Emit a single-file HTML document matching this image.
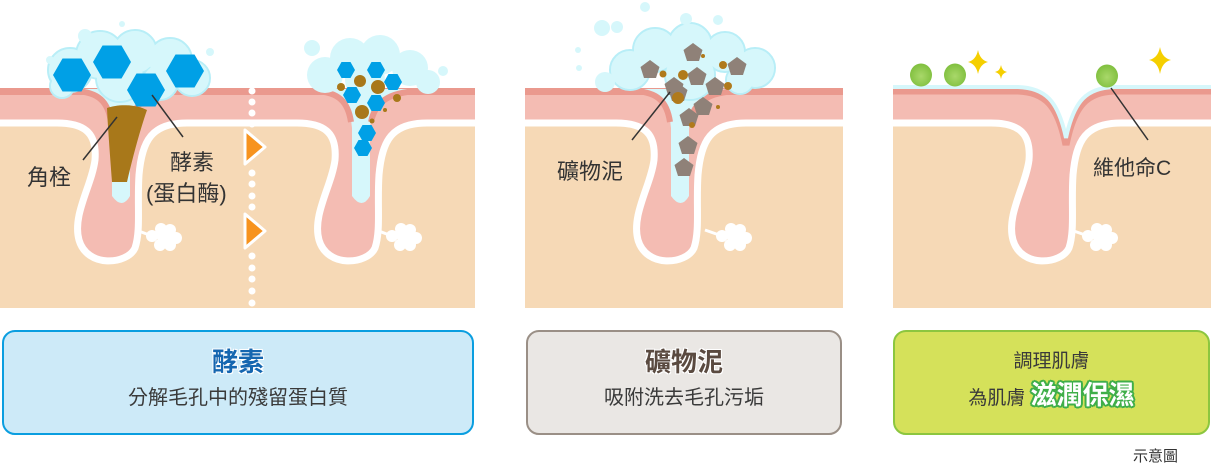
<!DOCTYPE html>
<html><head><meta charset="utf-8">
<style>
html,body{margin:0;padding:0;background:#fff;}
body{width:1211px;height:470px;position:relative;overflow:hidden;font-family:"Liberation Sans","Noto Sans CJK TC",sans-serif;}
.box{position:absolute;box-sizing:border-box;border-radius:13px;text-align:center;color:#3a3a3a;}
.t{font-weight:bold;font-size:26px;line-height:30px;margin-top:15px;}
.s{font-size:20px;line-height:26px;margin-top:14px;}
</style></head><body>
<svg width="1211" height="470" viewBox="0 0 1211 470" style="position:absolute;left:0;top:0">
<defs>
<clipPath id="c1"><rect x="0" y="60" width="475" height="248"/></clipPath>
<clipPath id="c2"><rect x="525" y="60" width="318" height="248"/></clipPath>
<clipPath id="c3"><rect x="893" y="60" width="318" height="248"/></clipPath>
<g id="cloud"><circle cx="0" cy="0" r="6" fill="#fff"/><circle cx="9" cy="-7" r="6" fill="#fff"/><circle cx="18" cy="-6" r="6" fill="#fff"/><circle cx="24" cy="2" r="6" fill="#fff"/><circle cx="18" cy="9" r="6" fill="#fff"/><circle cx="8" cy="9" r="6" fill="#fff"/><circle cx="12" cy="1" r="7" fill="#fff"/></g>
<polygon id="hex" points="-19,0 -9.5,-16.5 9.5,-16.5 19,0 9.5,16.5 -9.5,16.5" fill="#00a0e6"/>
<polygon id="hexs" points="-9,0 -4.5,-8 4.5,-8 9,0 4.5,8 -4.5,8" fill="#00a0e6"/>
<polygon id="pent" points="0,-10 9.5,-3 6,8 -6,8 -9.5,-3" fill="#8f8178"/>
<g id="fun">
<path d="M-50,89 C-25,90 -17,100 -15,128 L-15,196 Q-5,210 3,196 L3,128 C6,100 20,90 50,89 Z" fill="#d6f7fb"/>
<path d="M-52,91 C-28,92 -19,102 -16,122" fill="none" stroke="#ea998e" stroke-width="6"/>
<path d="M52,91 C22,92 8,102 4,122" fill="none" stroke="#ea998e" stroke-width="6"/>
</g>
</defs>

<!-- Panel 1 -->
<g clip-path="url(#c1)">
<rect x="0" y="90" width="475" height="218" fill="#f6d9b6"/>
<path d="M-10,90 H485 V123 H427 C392,123 382,140 379,175 C377,205 381,230 375,248 C367,265 327,268 319,240 C312,215 332,185 335,160 C337,135 327,123 297,123 H187 C152,123 142,140 139,175 C137,205 141,230 135,248 C127,265 87,268 79,240 C72,215 92,185 95,160 C97,135 87,123 57,123 H-10 Z" fill="#f4bcb3" stroke="#fff" stroke-width="7"/>
<rect x="0" y="88" width="475" height="7" fill="#ea998e"/>
</g>
<use href="#fun" x="127" y="0"/>
<path d="M107,108 C118,104 135,104 147,110 C140,130 132,160 127,182 L112,182 C110,155 108,130 107,108 Z" fill="#a8781a"/>
<!-- foam 1 -->
<g fill="#d6f7fb" stroke="#b8eef7" stroke-width="2">
<circle cx="70" cy="70" r="22"/><circle cx="100" cy="55" r="24"/><circle cx="135" cy="52" r="22"/><circle cx="170" cy="60" r="22"/><circle cx="192" cy="78" r="18"/><circle cx="120" cy="78" r="24"/><circle cx="160" cy="82" r="18"/><circle cx="62" cy="86" r="12"/>
</g>
<g fill="#d6f7fb"><circle cx="70" cy="70" r="21"/><circle cx="100" cy="55" r="23"/><circle cx="135" cy="52" r="21"/><circle cx="170" cy="60" r="21"/><circle cx="192" cy="78" r="17"/><circle cx="120" cy="78" r="23"/><circle cx="160" cy="82" r="17"/><circle cx="62" cy="86" r="11"/><circle cx="85" cy="36" r="7"/><circle cx="50" cy="60" r="4"/><circle cx="210" cy="52" r="4"/><circle cx="122" cy="24" r="3"/></g>
<use href="#hex" x="72" y="75"/><use href="#hex" x="112" y="62"/><use href="#hex" x="146" y="90"/><use href="#hex" x="185" y="71"/>
<line x1="83" y1="160" x2="117" y2="117" stroke="#333" stroke-width="1.5"/>
<line x1="152" y1="95" x2="183" y2="137" stroke="#333" stroke-width="1.5"/>
<use href="#cloud" x="152" y="236"/>
<line x1="136" y1="230" x2="152" y2="236" stroke="#fff" stroke-width="3"/>
<!-- pore 2 -->
<use href="#fun" x="367" y="0"/>
<g fill="#d6f7fb"><circle cx="325" cy="75" r="18"/><circle cx="350" cy="58" r="20"/><circle cx="380" cy="55" r="20"/><circle cx="410" cy="68" r="18"/><circle cx="428" cy="82" r="12"/><circle cx="365" cy="80" r="20"/><circle cx="312" cy="48" r="8"/><circle cx="443" cy="71" r="5"/></g>
<use href="#hexs" x="346" y="70"/><use href="#hexs" x="376" y="70"/><use href="#hexs" x="393" y="82"/><use href="#hexs" x="352" y="95"/><use href="#hexs" x="376" y="103"/><use href="#hexs" x="367" y="133"/><use href="#hexs" x="363" y="148"/>
<g fill="#a8781a"><circle cx="360" cy="81" r="6"/><circle cx="378" cy="87" r="7"/><circle cx="341" cy="87" r="4"/><circle cx="397" cy="98" r="4"/><circle cx="362" cy="112" r="7"/><circle cx="372" cy="121" r="2.5"/><circle cx="385" cy="110" r="2"/></g>
<use href="#cloud" x="392" y="236"/>
<line x1="376" y1="230" x2="392" y2="236" stroke="#fff" stroke-width="3"/>
<g font-size="22" fill="#333"><text x="27" y="185">角栓</text><text x="170" y="170">酵素</text><text x="146" y="201">(蛋白酶)</text></g>
<!-- divider -->
<g fill="#fff"><circle cx="252" cy="80" r="3.5"/><circle cx="252" cy="91" r="3.5"/><circle cx="252" cy="102" r="3.5"/><circle cx="252" cy="113" r="3.5"/><circle cx="252" cy="124" r="3.5"/><circle cx="252" cy="173" r="3.5"/><circle cx="252" cy="184" r="3.5"/><circle cx="252" cy="196" r="3.5"/><circle cx="252" cy="207" r="3.5"/><circle cx="252" cy="256" r="3.5"/><circle cx="252" cy="268" r="3.5"/><circle cx="252" cy="279" r="3.5"/><circle cx="252" cy="291" r="3.5"/><circle cx="252" cy="303" r="3.5"/></g>
<polygon points="245,130 265,147 245,164" fill="#f7931e" stroke="#fff" stroke-width="3" stroke-linejoin="round"/>
<polygon points="245,214 265,231 245,248" fill="#f7931e" stroke="#fff" stroke-width="3" stroke-linejoin="round"/>

<!-- Panel 2 -->
<g clip-path="url(#c2)">
<rect x="525" y="90" width="318" height="218" fill="#f6d9b6"/>
<path d="M515,90 H853 V123 H746 C711,123 701,140 698,175 C696,205 700,230 694,248 C686,265 646,268 638,240 C631,215 651,185 654,160 C656,135 646,123 616,123 H515 Z" fill="#f4bcb3" stroke="#fff" stroke-width="7"/>
<rect x="525" y="88" width="318" height="7" fill="#ea998e"/>
</g>
<use href="#fun" x="686" y="0"/>
<g fill="#d6f7fb" stroke="#b8eef7" stroke-width="2"><circle cx="630" cy="70" r="20"/><circle cx="655" cy="50" r="22"/><circle cx="690" cy="45" r="22"/><circle cx="725" cy="52" r="20"/><circle cx="755" cy="68" r="20"/><circle cx="690" cy="75" r="25"/><circle cx="740" cy="80" r="14"/></g>
<g fill="#d6f7fb"><circle cx="630" cy="70" r="19"/><circle cx="655" cy="50" r="21"/><circle cx="690" cy="45" r="21"/><circle cx="725" cy="52" r="19"/><circle cx="755" cy="68" r="19"/><circle cx="690" cy="75" r="24"/><circle cx="740" cy="80" r="13"/><circle cx="605" cy="82" r="10"/><circle cx="602" cy="28" r="8"/><circle cx="617" cy="27" r="6"/><circle cx="645" cy="7" r="5"/><circle cx="686" cy="19" r="6"/><circle cx="578" cy="50" r="3"/><circle cx="579" cy="68" r="3"/><circle cx="718" cy="20" r="5"/></g>
<use href="#pent" x="650" y="70"/><use href="#pent" x="693" y="53"/><use href="#pent" x="737" y="67"/><use href="#pent" x="697" y="77"/><use href="#pent" x="674" y="87"/><use href="#pent" x="715" y="87"/><use href="#pent" x="703" y="107"/><use href="#pent" x="689" y="118"/><use href="#pent" x="688" y="146"/><use href="#pent" x="684" y="168"/><use href="#pent" x="678" y="93"/>
<g fill="#b07a1c"><circle cx="663" cy="74" r="3.5"/><circle cx="683" cy="75" r="5"/><circle cx="703" cy="56" r="2"/><circle cx="723" cy="65" r="4"/><circle cx="678" cy="98" r="6"/><circle cx="728" cy="86" r="4"/><circle cx="692" cy="125" r="3"/><circle cx="718" cy="107" r="2"/></g>
<line x1="670" y1="92" x2="632" y2="140" stroke="#333" stroke-width="1.5"/>
<use href="#cloud" x="722" y="236"/>
<line x1="705" y1="230" x2="722" y2="236" stroke="#fff" stroke-width="3"/>
<text x="557" y="179" font-size="22" fill="#333">礦物泥</text>

<!-- Panel 3 -->
<g clip-path="url(#c3)">
<rect x="893" y="90" width="318" height="218" fill="#f6d9b6"/>
<path d="M883,90 H1221 V123 H1121 C1086,123 1076,140 1073,175 C1071,205 1075,230 1069,248 C1061,265 1021,268 1013,240 C1006,215 1026,185 1029,160 C1031,135 1021,123 991,123 H883 Z" fill="#f4bcb3" stroke="#fff" stroke-width="7"/>
<path d="M1015,80 C1045,86 1058,100 1066,142 C1074,100 1087,86 1117,80 Z" fill="#fff"/>
<path d="M883,91 H1018 C1045,92 1058,105 1066,145 C1074,105 1087,92 1114,91 H1221" fill="none" stroke="#ea998e" stroke-width="7"/>
<path d="M883,87 H1018 C1045,88 1058,100 1066,138 C1074,100 1087,88 1114,87 H1221" fill="none" stroke="#d6f7fb" stroke-width="4"/>
</g>
<defs><radialGradient id="g" cx="0.5" cy="0.55" r="0.6"><stop offset="0" stop-color="#a9d86a"/><stop offset="1" stop-color="#7cbd3a"/></radialGradient></defs>
<ellipse cx="921" cy="75" rx="11" ry="11.5" fill="url(#g)"/><ellipse cx="955" cy="75" rx="11" ry="11.5" fill="url(#g)"/><ellipse cx="1107" cy="76" rx="11" ry="11.5" fill="url(#g)"/>
<g fill="#f5cf00"><path d="M978,50 Q980,60 988,62 Q980,64 978,74 Q976,64 968,62 Q976,60 978,50Z"/><path d="M1001,65 Q1002,71 1007,72 Q1002,73 1001,79 Q1000,73 995,72 Q1000,71 1001,65Z"/><path d="M1160,47 Q1162,58 1171,60 Q1162,62 1160,74 Q1158,62 1149,60 Q1158,58 1160,47Z"/></g>
<line x1="1111" y1="88" x2="1148" y2="140" stroke="#333" stroke-width="1.5"/>
<use href="#cloud" x="1088" y="236"/>
<line x1="1071" y1="230" x2="1088" y2="236" stroke="#fff" stroke-width="3"/>
<text x="1093" y="175" font-size="21" fill="#333">維他命C</text>
</svg>

<div class="box" style="left:2px;top:330px;width:472px;height:105px;border:2.5px solid #0a9ee0;background:#cdeaf8;">
<div class="t" style="color:#1566b0;text-shadow:-1px -1px 0 #fff,1px -1px 0 #fff,-1px 1px 0 #fff,1px 1px 0 #fff;">酵素</div>
<div class="s" style="margin-top:8px">分解毛孔中的殘留蛋白質</div></div>
<div class="box" style="left:526px;top:330px;width:316px;height:105px;border:2.5px solid #9a8f86;background:#eae7e4;">
<div class="t" style="color:#5a4a40;text-shadow:-1px -1px 0 #fff,1px -1px 0 #fff,-1px 1px 0 #fff,1px 1px 0 #fff;">礦物泥</div>
<div class="s" style="margin-top:8px">吸附洗去毛孔污垢</div></div>
<div class="box" style="left:893px;top:330px;width:317px;height:105px;border:2.5px solid #8cc63f;background:#d5e15a;">
<div style="font-size:19px;line-height:24px;margin-top:18px;">調理肌膚</div>
<div style="font-size:19px;line-height:30px;margin-top:6px;">為肌膚 <span style="font-size:26px;font-weight:bold;color:#fff;text-shadow:-1.5px -1.5px 0 #3fae49,1.5px -1.5px 0 #3fae49,-1.5px 1.5px 0 #3fae49,1.5px 1.5px 0 #3fae49,0 2px 0 #3fae49,2px 0 0 #3fae49,-2px 0 0 #3fae49,0 -2px 0 #3fae49;">滋潤保濕</span></div></div>
<div style="position:absolute;left:1133px;top:445px;font-size:15px;color:#333;">示意圖</div>
</body></html>
